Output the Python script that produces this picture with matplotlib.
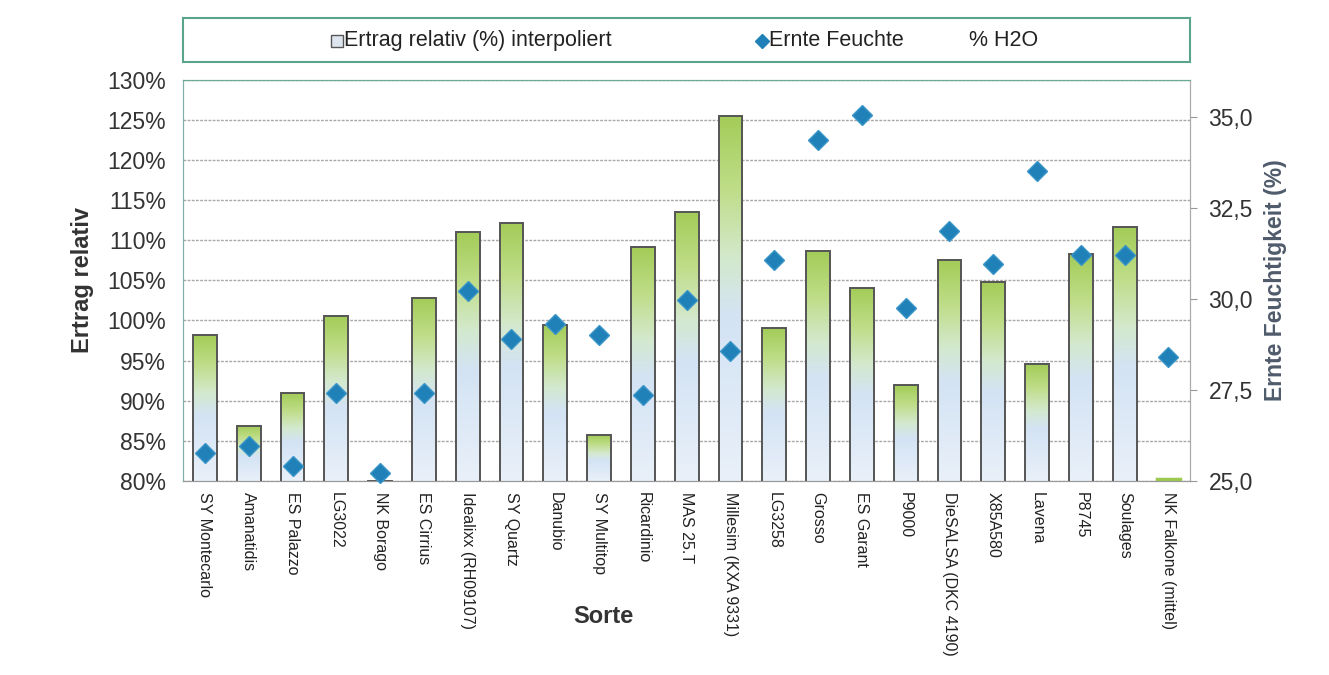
#!/usr/bin/env python
# coding:utf-8

"""
plot.py - Ertrag relativ und Erntefeuchte je Sorte
"""

import matplotlib
matplotlib.use("Agg")
import matplotlib.pyplot as plt
import numpy as np
from matplotlib.colors import LinearSegmentedColormap
from matplotlib.lines import Line2D
from matplotlib.patches import Rectangle


sorten = ["SY Montecarlo", "Amanatidis", "ES Palazzo", "LG3022", "NK Borago",
          "ES Cirrius", "Idealixx (RH09107)", "SY Quartz", "Danubio",
          "SY Multitop", "Ricardinio", "MAS 25.T", "Millesim (KXA 9331)",
          "LG3258", "Grosso", "ES Garant", "P9000", "DieSALSA (DKC 4190)",
          "X85A580", "Lavena", "P8745", "Soulages", "NK Falkone (mittel)"]

ertrag = [98.2, 86.8, 90.9, 100.5, 80.0, 102.8, 111.1, 112.2, 99.4, 85.7,
          109.2, 113.5, 125.6, 99.0, 108.7, 104.0, 91.9, 107.6, 104.8, 94.6,
          108.3, 111.7, 80.2]

feuchte = [25.75, 25.95, 25.4, 27.4, 25.2, 27.4, 30.2, 28.9, 29.3, 29.0,
           27.35, 29.95, 28.55, 31.05, 34.35, 35.05, 29.75, 31.85, 30.95,
           33.5, 31.2, 31.2, 28.4]

left_ticks = np.arange(80, 131, 5)
right_ticks = [25.0, 27.5, 30.0, 32.5, 35.0]

FONT = ["Liberation Sans", "DejaVu Sans"]


def main():
    plt.rcParams["font.family"] = FONT
    fig = plt.figure(figsize=(13.29, 6.75), dpi=100)
    ax = fig.add_axes([0.1377, 0.288, 0.758, 0.593])
    ax2 = ax.twinx()

    x = np.arange(len(sorten))
    width = 0.54
    grad = LinearSegmentedColormap.from_list(
        "bar", [(0.0, "#e9f0f9"), (0.45, "#d3e3f4"), (0.6, "#d4e9cf"),
                (0.8, "#bfdd88"), (1.0, "#a3cc58")])
    img = np.linspace(0, 1, 256).reshape(-1, 1)

    ax.set_ylim(80, 130)
    ax.set_xlim(-0.5, len(sorten) - 0.5)
    bars = ax.bar(x, ertrag, width, bottom=0, facecolor="none",
                  edgecolor="#555555", linewidth=1.4, zorder=3)
    for b, h in zip(bars, ertrag):
        if h <= 80.3:
            continue
        x0 = b.get_x()
        im = ax.imshow(img, cmap=grad, origin="lower", aspect="auto",
                       extent=[x0, x0 + width, 80, h], zorder=2)
        im.set_clip_path(b)
    # thin green stub for the mean variety
    ax.plot([x[-1] - width / 2, x[-1] + width / 2], [80.15, 80.15],
            color="#9cc94e", lw=2.5, zorder=4, clip_on=False)
    ax.set_xlim(-0.5, len(sorten) - 0.5)
    ax.set_ylim(80, 130)

    ax.set_yticks(left_ticks)
    ax.set_yticklabels(["%d%%" % t for t in left_ticks], fontsize=16.5,
                       color="#333333")
    ax.tick_params(axis="y", length=0, pad=12)
    ax.grid(axis="y", color="#a8a8a8", linewidth=1.0, linestyle=(0, (2, 1)),
            zorder=0)
    ax.set_axisbelow(True)
    ax.set_xticks(x)
    ax.set_xticklabels(sorten, rotation=-90, fontsize=11.5, color="#222222",
                       va="top", ha="center")
    ax.tick_params(axis="x", length=0, pad=8)
    ax.set_xlabel("Sorte", fontsize=17, fontweight="bold", color="#333333")
    ax.xaxis.set_label_coords(0.417, -0.31)
    ax.set_ylabel("Ertrag relativ", fontsize=17, fontweight="bold",
                  color="#333333", labelpad=10)

    ax2.plot(x, feuchte, linestyle="none", marker="D", markersize=10.5,
             markerfacecolor="#2080b8", markeredgecolor="#3a95c8",
             markeredgewidth=1, zorder=5, clip_on=False)
    ax2.set_ylim(25, 36)
    ax2.set_yticks(right_ticks)
    ax2.set_yticklabels([("%.1f" % t).replace(".", ",") for t in right_ticks],
                        fontsize=16.5, color="#333333")
    ax2.tick_params(axis="y", length=5, color="#999999", pad=8)
    ax2.set_ylabel("Ernte Feuchtigkeit (%)", fontsize=16.5, fontweight="bold",
                   color="#4f5b6b", labelpad=8)

    for a in (ax, ax2):
        a.spines["left"].set_color("#7fb0a8")
        a.spines["top"].set_color("#6aaa90")
        a.spines["right"].set_color("#aaaaaa")
        a.spines["right"].set_linestyle((0, (2, 1)))
        a.spines["bottom"].set_color("#999999")

    # legend box
    fig.add_artist(Rectangle((0.1377, 0.908), 0.758, 0.065,
                             transform=fig.transFigure, facecolor="white",
                             edgecolor="#5aa58a", linewidth=1.5))
    fig.add_artist(Line2D([0.2535], [0.94], marker="s", markersize=8,
                          markerfacecolor="#dde6ee", markeredgecolor="#555555",
                          transform=fig.transFigure, linestyle="none"))
    fig.text(0.2585, 0.94, "Ertrag relativ (%) interpoliert", fontsize=15.5,
             va="center", color="#222222")
    fig.add_artist(Line2D([0.5735], [0.94], marker="D", markersize=7,
                          markerfacecolor="#2080b8", markeredgecolor="#2080b8",
                          transform=fig.transFigure, linestyle="none"))
    fig.text(0.5785, 0.94, "Ernte Feuchte", fontsize=15.5, va="center",
             color="#222222")
    fig.text(0.729, 0.94, "% H2O", fontsize=15.5, va="center",
             color="#222222")

    fig.savefig("out.png", dpi=100)


if __name__ == "__main__":
    main()
